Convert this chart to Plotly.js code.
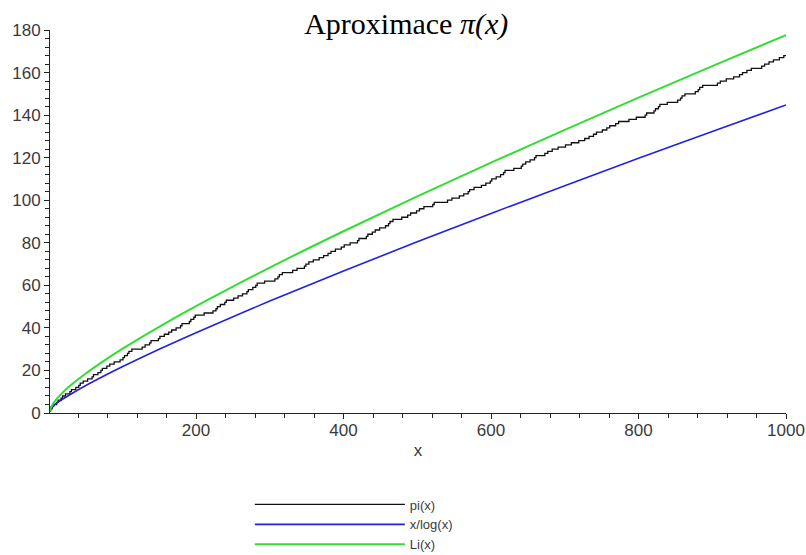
<!DOCTYPE html>
<html>
<head>
<meta charset="utf-8">
<script src="https://cdn.plot.ly/plotly-3.0.1.min.js"></script>
<style>html,body{margin:0;padding:0;background:#fff;}#chart{width:806px;height:555px;}</style>
</head>
<body>
<div id="chart"></div>
<script>
// pi(x): primes below 1000 (step positions) and counts
const primeX = [2,3,5,7,11,13,17,19,23,29,31,37,41,43,47,53,59,61,67,71,73,79,83,89,97,
101,103,107,109,113,127,131,137,139,149,151,157,163,167,173,179,181,191,193,197,199,
211,223,227,229,233,239,241,251,257,263,269,271,277,281,283,293,
307,311,313,317,331,337,347,349,353,359,367,373,379,383,389,397,
401,409,419,421,431,433,439,443,449,457,461,463,467,479,487,491,499,
503,509,521,523,541,547,557,563,569,571,577,587,593,599,
601,607,613,617,619,631,641,643,647,653,659,661,673,677,683,691,
701,709,719,727,733,739,743,751,757,761,769,773,787,797,
809,811,821,823,827,829,839,853,857,859,863,877,881,883,887,
907,911,919,929,937,941,947,953,967,971,977,983,991,997,1000];
const piCount = [1,2,3,4,5,6,7,8,9,10,11,12,13,14,15,16,17,18,19,20,21,22,23,24,25,
26,27,28,29,30,31,32,33,34,35,36,37,38,39,40,41,42,43,44,45,46,
47,48,49,50,51,52,53,54,55,56,57,58,59,60,61,62,
63,64,65,66,67,68,69,70,71,72,73,74,75,76,77,78,
79,80,81,82,83,84,85,86,87,88,89,90,91,92,93,94,95,
96,97,98,99,100,101,102,103,104,105,106,107,108,109,
110,111,112,113,114,115,116,117,118,119,120,121,122,123,124,125,
126,127,128,129,130,131,132,133,134,135,136,137,138,139,
140,141,142,143,144,145,146,147,148,149,150,151,152,153,154,
155,156,157,158,159,160,161,162,163,164,165,166,167,168,168];

// smooth curves sampled at these x
const sampleX   = [2, 3, 5, 7, 10, 15, 20, 30, 50, 75, 100, 150, 200, 300, 400, 500, 600, 700, 800, 900, 1000];
const xOverLogX = [2.885, 2.731, 3.107, 3.597, 4.343, 5.539, 6.676, 8.820, 12.781, 17.371, 21.715, 29.936, 37.748, 52.597, 66.761, 80.455, 93.796, 106.852, 119.678, 132.306, 144.765];
const liX       = [1.045, 2.164, 3.635, 4.757, 6.166, 8.155, 9.905, 13.023, 18.469, 24.530, 30.126, 40.503, 50.192, 68.334, 85.418, 101.794, 117.647, 133.089, 148.197, 163.024, 177.610];

const seriesNames = ['pi(x)', 'x/log(x)', 'Li(x)'];
const xTicks = [200, 400, 600, 800, 1000];

const tickFont = {family: 'Liberation Sans, Arial, sans-serif', size: 17, color: '#3a3a3a'};

const traces = [
  {x: primeX, y: piCount, name: seriesNames[0], mode: 'lines', line: {color: '#111111', width: 1.3, shape: 'hv'}},
  {x: sampleX, y: xOverLogX, name: seriesNames[1], mode: 'lines', line: {color: '#2222dd', width: 1.6, shape: 'spline'}},
  {x: sampleX, y: liX, name: seriesNames[2], mode: 'lines', line: {color: '#33dd33', width: 2, shape: 'spline'}}
];

const layout = {
  width: 806, height: 555,
  paper_bgcolor: '#ffffff', plot_bgcolor: '#ffffff',
  margin: {l: 50, r: 20, t: 30, b: 142, autoexpand: false},
  title: {text: 'Aproximace <i>π(x)</i>', font: {family: 'Liberation Serif, Times New Roman, serif', size: 30, color: '#000'},
          x: 0.504, xanchor: 'center', y: 0.957, yanchor: 'middle'},
  showlegend: true,
  legend: {orientation: 'v', xref: 'container', yref: 'container', x: 0.31, xanchor: 'left', y: 0.118, yanchor: 'top', itemwidth: 150,
           font: {family: 'Liberation Sans, Arial, sans-serif', size: 13, color: '#3a3a3a'},
           tracegroupgap: 0, bgcolor: 'rgba(0,0,0,0)'},
  xaxis: {range: [2, 1000], tickvals: xTicks, ticktext: xTicks.map(String), showgrid: false, zeroline: false,
          showline: true, linecolor: '#222', linewidth: 1, ticks: 'outside', ticklen: 5, tickcolor: '#222',
          tickfont: tickFont, ticklabelstandoff: -3,
          minor: {dtick: 40, tick0: 0, ticks: 'outside', ticklen: 4, tickcolor: '#222', showgrid: false},
          title: {text: 'x', font: tickFont, standoff: 4}},
  yaxis: {range: [0, 180], dtick: 20, tick0: 0, showgrid: false, zeroline: false,
          showline: true, linecolor: '#222', linewidth: 1, ticks: 'outside', ticklen: 5, tickcolor: '#222',
          tickfont: tickFont,
          minor: {dtick: 4, tick0: 0, ticks: 'outside', ticklen: 4, tickcolor: '#222', showgrid: false}}
};

Plotly.newPlot('chart', traces, layout, {displayModeBar: false, staticPlot: true});
</script>
</body>
</html>
